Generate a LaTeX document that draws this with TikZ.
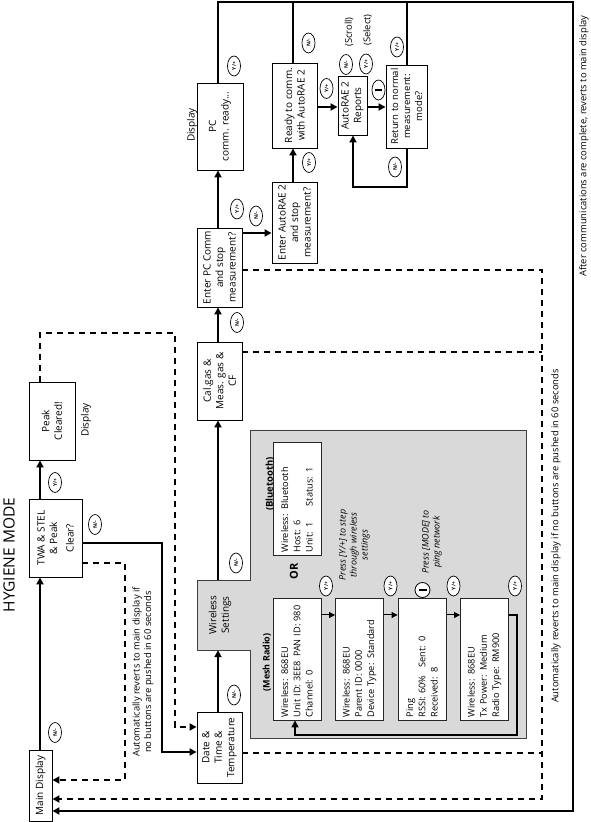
\documentclass[tikz,border=0pt]{standalone}
\usepackage{fontspec}
\setmainfont{Open Sans}
\usetikzlibrary{arrows.meta,shapes.geometric,calc}
\definecolor{panelgray}{gray}{0.85}
\begin{document}
\begin{tikzpicture}[x=1pt,y=1pt,
  box/.style={draw, line width=0.9pt, fill=white, align=center, inner sep=1pt,
    font=\fontsize{10}{12.5}\selectfont},
  infobox/.style={draw=black!85, line width=0.9pt, fill=white, align=left,
    inner xsep=2.5pt, inner ysep=1pt, text width=117pt, minimum height=48pt,
    font=\fontsize{9.2}{12.2}\selectfont},
  lbl/.style={inner sep=0pt, font=\fontsize{10}{12}\selectfont},
  note/.style={inner sep=0pt, align=center, font=\fontsize{9.4}{11.5}\selectfont},
  btn/.style={draw, ellipse, fill=white, line width=0.7pt, inner sep=0pt,
    minimum width=20pt, minimum height=13pt, font=\fontsize{5}{5}\selectfont\bfseries},
  tip/.style={-{Triangle[length=7pt,width=7pt]}},
  flow/.style={line width=1.8pt, tip},
  tmo/.style={line width=1.8pt, dash pattern=on 6pt off 5pt},
  bigline/.style={line width=2.2pt},
  minif/.style={line width=1pt, -{Triangle[length=6pt,width=6pt]}},
]
\useasboundingbox (0,0) rectangle (590,822);
\begin{scope}[shift={(590,0)}, rotate=90, transform shape]

% title
\node[inner sep=0pt, font=\fontsize{15.5}{18}\selectfont] (title) at (267,581) {HYGIENE MODE};

% gray wireless panel
\draw[fill=panelgray, draw=black!75, line width=0.8pt]
  (84,64) -- (392,64) -- (392,340) -- (242,340) -- (242,393) -- (172,393)
  -- (172,340) -- (84,340) -- cycle;

% main boxes
\node[box, minimum width=71, minimum height=23] (main) at (36.5,549.5) {Main Display};
\node[box, minimum width=78, minimum height=53] (twa) at (284,534.5) {TWA \& STEL\\\& Peak\\[4pt]Clear?};
\node[box, minimum width=78, minimum height=46] (peak) at (401,538) {Peak\\Cleared!};
\node[lbl] (disp1) at (402,504) {Display};
\node[box, minimum width=71, minimum height=45] (date) at (74.5,370.5) {Date \&\\Time \&\\Temperature};
\node[align=center, inner sep=1pt, font=\fontsize{10}{12.5}\selectfont,
  minimum width=70, minimum height=40] (wls) at (207,370) {Wireless\\Settings};
\node[box, minimum width=78, minimum height=45] (cal) at (441,370.5) {Cal.gas \&\\Meas. gas \&\\CF};
\node[box, minimum width=79, minimum height=45] (epc) at (554.5,370.5) {Enter PC Comm\\and stop\\measurement?};
\node[box, minimum width=87, minimum height=46] (pc) at (695.5,370) {PC\\comm. ready...};
\node[lbl] (disp2) at (697,398) {Display};
\node[box, minimum width=81, minimum height=45] (ea) at (599.5,295.5) {Enter AutoRAE 2\\and stop\\measurement?};
\node[box, minimum width=85, minimum height=45] (ready) at (716.5,295.5) {Ready to comm.\\with AutoRAE 2};
\node[box, minimum width=59, minimum height=29] (rep) at (716.5,237.5) {AutoRAE 2\\Reports};
\node[box, minimum width=83, minimum height=41, font=\fontsize{9.5}{12}\selectfont] (ret) at (715.5,183.5) {Return to normal\\measurement:\\mode?};

% wireless panel content
\node[inner sep=0pt, font=\fontsize{9}{11}\selectfont\bfseries] (meshlbl) at (159.5,323) {(Mesh Radio)};
\node[inner sep=0pt, font=\fontsize{11}{13}\selectfont\bfseries] (orlbl) at (250.5,296) {OR};
\node[inner sep=0pt, font=\fontsize{9.5}{11}\selectfont\bfseries] (btlbl) at (338,320) {(Bluetooth)};
\node[infobox, text width=108pt] (bt) at (323.5,293) {Wireless: Bluetooth\\Host: 6\\Unit: 1\hspace{16pt}Status: 1};
\node[note, font=\fontsize{9}{11}\selectfont\itshape] (steplbl) at (277,235.5) {Press [Y/+] to step\\through wireless\\settings};
\node[infobox] (m1) at (163,293) {Wireless: 868EU\\Unit ID: 3EE8\hspace{4pt}PAN ID: 980\\Channel: 0};
\node[infobox] (m2) at (163,230.5) {Wireless: 868EU\\Parent ID: 0000\\Device Type: Standard};
\node[infobox] (m3) at (163,168) {Ping\\RSSI: 60\%\hspace{8pt}Sent: 0\\Received: 8};
\node[infobox] (m4) at (163,105.5) {Wireless: 868EU\\Tx Power: Medium\\Radio Type: RM900};
\node[draw, circle, fill=white, line width=0.8pt, minimum size=15pt, inner sep=0pt] (mode2) at (232,167.5) {};
\draw[line width=2pt] ($(mode2.center)+(0,-4)$) -- ($(mode2.center)+(0,4)$);
\node[note, font=\fontsize{9}{11}\selectfont\itshape] (pinglbl) at (280,158) {Press [MODE] to\\ping network};

% mesh connectors
\draw[minif] (m1.south -| 207,0) -- (m2.north -| 207,0);
\draw[minif] (m2.south -| 207,0) -- (m3.north -| 207,0);
\draw[minif] (m3.south -| 207,0) -- (m4.north -| 207,0);
\draw[line width=1.5pt, tip] (m4.south -| 207,0) -- (207,73) -- (87,73) -- (87,295) -- (m1.west |- 0,295);

% main flow
\draw[flow] (main.east |- 0,550) -- (twa.west |- 0,550);
\draw[flow] (twa.east |- 0,550) -- (peak.west |- 0,550);
\draw[tmo, tip] (peak.east |- 0,550) -- (489,550) -- (489,415) -- (95,415) -- (date.north -| 95,0);
\draw[flow] (twa.south -| 279,0) -- (279,428) -- (70,428) -- (date.north -| 70,0);
\draw[tmo, tip] (twa.south -| 259,0) -- (259,465) -- (42,465) -- (main.south -| 42,0);
\draw[flow] (date.east |- 0,372) -- (wls.west |- 0,372);
\draw[flow] (wls.east |- 0,372) -- (cal.west |- 0,372);
\draw[flow] (cal.east |- 0,372) -- (epc.west |- 0,372);
\draw[flow] (epc.east |- 0,372) -- (pc.west |- 0,372);
\draw[flow] (epc.south -| 589,0) -- (ea.north -| 589,0);
\draw[flow] (ea.east |- 0,297) -- (ready.west |- 0,297);
\draw[flow] (ready.south -| 715,0) -- (rep.north -| 715,0);
\draw[flow] (rep.south -| 715,0) -- (ret.north -| 715,0);
\draw[line width=2.2pt, tip] (ret.west |- 0,183) -- (635,183) -- (635,237) -- (rep.west |- 0,237);

% return lines
\draw[bigline, tip] (pc.east |- 0,372) -- (820,372) -- (820,17) -- (11,17) -- (main.south -| 11,0);
\draw[bigline] (ready.east |- 0,297) -- (820,297);
\draw[bigline] (ret.east |- 0,183) -- (820,183);

% time-out lines
\draw[tmo] (date.south -| 69,0) -- (69,48);
\draw[tmo] (cal.south -| 470,0) -- (470,48);
\draw[tmo, tip] (epc.south -| 552,0) -- (552,48) -- (23,48) -- (main.south -| 23,0);

% buttons
\node[btn] (b1) at (89.5,535) {N/-};
\node[btn] (b2) at (339.5,535) {Y/+};
\node[btn] (b3) at (297.5,495) {N/-};
\node[btn] (b4) at (127,356) {N/-};
\node[btn] (b5) at (259,354) {N/-};
\node[btn] (b6) at (499.5,353) {N/-};
\node[btn] (b7) at (613,353) {Y/+};
\node[btn] (b8) at (756,356) {Y/+};
\node[btn] (b9) at (606,334) {N/-};
\node[btn] (b10) at (659.5,281) {Y/+};
\node[btn] (b11) at (779,281.5) {N/-};
\node[btn] (b12) at (733.5,263.5) {Y/+};
\node[btn] (b13) at (757.5,244) {N/-};
\node[btn] (b14) at (758,224) {Y/+};
\node[btn] (mode1) at (732,211.5) {};
\draw[line width=1.2pt] ($(mode1.center)+(0,-3.5)$) -- ($(mode1.center)+(0,3.5)$);
\node[btn] (b15) at (775,193) {Y/+};
\node[btn] (b16) at (655,195) {N/-};
\node[btn] (b17) at (236,264) {Y/+};
\node[btn] (b18) at (236,199.5) {Y/+};
\node[btn] (b19) at (236,136.5) {Y/+};
\node[btn] (b20) at (236,75) {Y/+};
\node[note] (scroll) at (790,241) {(Scroll)};
\node[note] (select) at (792,222.5) {(Select)};

% notes
\node[note] (auto1) at (150,447) {Automatically reverts to main display if\\no buttons are pushed in 60 seconds};
\node[note] (auto2) at (286,34) {Automatically reverts to main display if no buttons are pushed in 60 seconds};
\node[note] (after) at (676,6) {After communications are complete, reverts to main display};
\end{scope}
\end{tikzpicture}
\end{document}
